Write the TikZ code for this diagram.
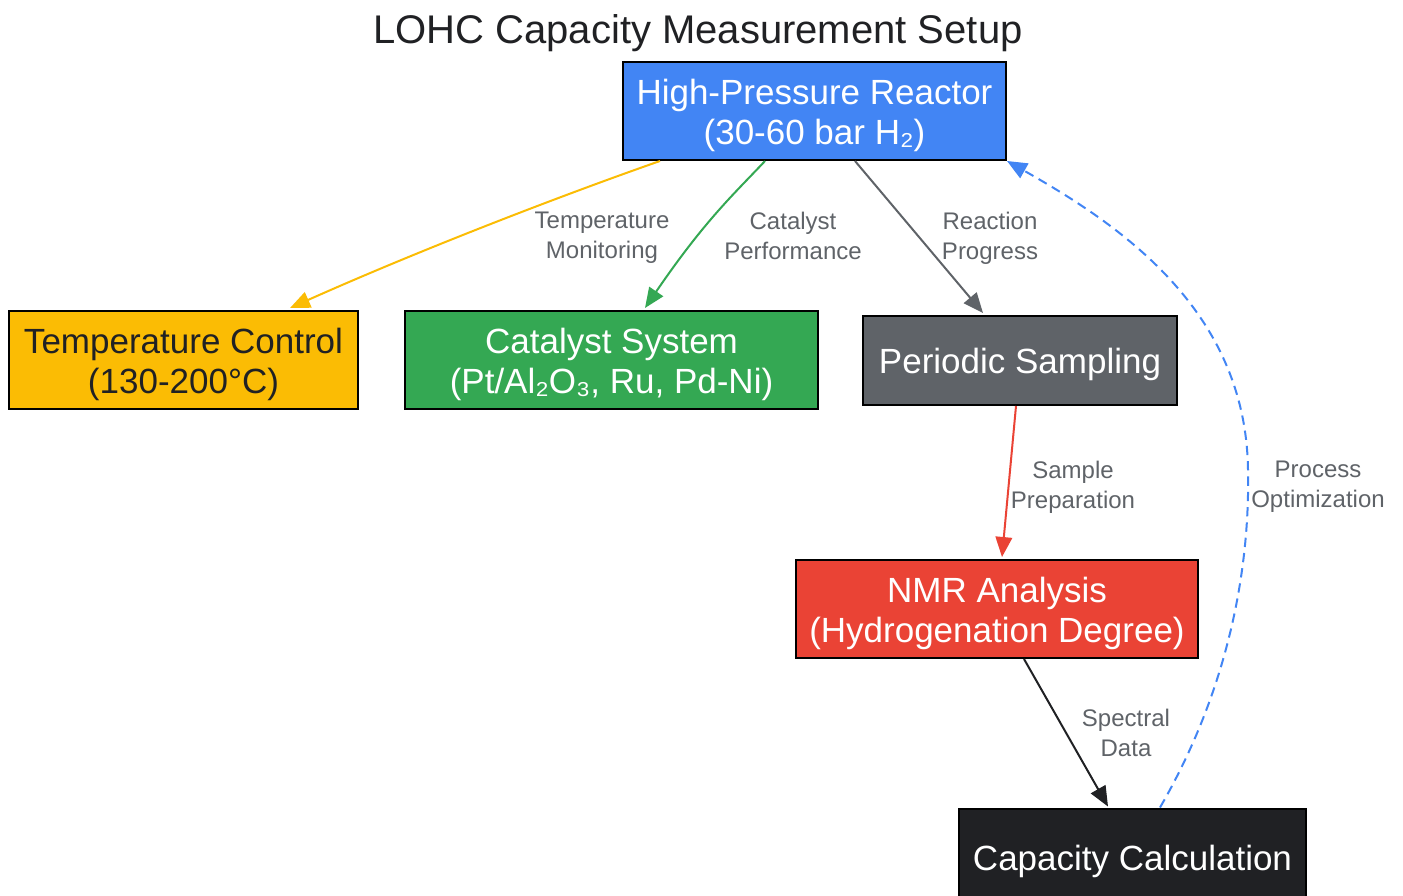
\documentclass[tikz,border=0pt]{standalone}
\usepackage{fontspec}
\setmainfont{Liberation Sans}
\usetikzlibrary{arrows.meta,calc}

\definecolor{gblue}{HTML}{4285F4}
\definecolor{gyellow}{HTML}{FBBC04}
\definecolor{ggreen}{HTML}{34A853}
\definecolor{ggray}{HTML}{5F6368}
\definecolor{gred}{HTML}{EA4335}
\definecolor{gdark}{HTML}{202124}

\tikzset{
  box/.style={draw=black, line width=1.5pt, align=center, inner sep=0pt,
    font=\fontsize{26.25pt}{30pt}\selectfont},
  oneline/.style={execute at begin node={\rule{0pt}{25pt}}},
  twoline/.style={execute at begin node={\rule{0pt}{55.5pt}}},
  elabel/.style={text=ggray, align=center, font=\fontsize{18pt}{22.5pt}\selectfont,
    execute at begin node=\strut, execute at end node=\strut},
  flow/.style={line width=1.5pt, -{Triangle[length=15pt,width=12.5pt]}},
}

\begin{document}
\begin{tikzpicture}[x=0.75pt,y=-0.75pt]
\useasboundingbox (0,0) rectangle (1403,896);
\clip (0,0) rectangle (1403,896);

% Title
\node[text=gdark, font=\fontsize{30pt}{36pt}\selectfont] (title) at (698,33) {LOHC Capacity Measurement Setup};

% Boxes
\node[box, twoline, fill=gblue, text=white, minimum width=287.25pt, minimum height=73.5pt] (reactor) at (814.5,111) {High-Pressure Reactor\\(30-60 bar H₂)};
\node[box, twoline, fill=gyellow, text=gdark, minimum width=261.75pt, minimum height=73.5pt] (temp) at (183.5,360) {Temperature Control\\(130-200°C)};
\node[box, twoline, fill=ggreen, text=white, minimum width=309.75pt, minimum height=73.5pt] (catalyst) at (611.5,360) {Catalyst System\\(Pt/Al₂O₃, Ru, Pd-Ni)};
\node[box, oneline, fill=ggray, text=white, minimum width=235.5pt, minimum height=66.75pt] (sampling) at (1020,360.5) {Periodic Sampling};
\node[box, twoline, fill=gred, text=white, minimum width=301.5pt, minimum height=73.5pt] (nmr) at (997,609) {NMR Analysis\\(Hydrogenation Degree)};
\node[box, oneline, fill=gdark, text=white, minimum width=260.25pt, minimum height=73.5pt] (capacity) at (1132.5,857.5) {Capacity Calculation};

% Connectors
\draw[flow, gyellow] ($(reactor.south)+(-154.5,0)$) .. controls (560,196) and (420,250) .. ($(temp.north)+(106.5,-2)$);
\draw[flow, ggreen] ($(reactor.south)+(-49.5,0)$) .. controls (735,193) and (705,220) .. ($(catalyst.north)+(33.5,-2)$);
\draw[flow, ggray] ($(reactor.south)+(40.5,0)$) -- ($(sampling.north)+(-37,-2)$);
\draw[flow, gred] ($(sampling.south)+(-4,0)$) -- ($(nmr.north)+(5,-2)$);
\draw[flow, gdark] ($(nmr.south)+(27,0)$) -- ($(capacity.north)+(-24.5,-1)$);
\draw[flow, gblue, dash pattern=on 7pt off 4.5pt] ($(capacity.north)+(27.5,0)$)
  .. controls (1228,690) and (1250,570) .. (1248,470)
  .. controls (1246,310) and (1120,225) .. (reactor.south east);

% Edge labels
\node[elabel] (lbtemp) at (602,240) {Temperature\\Monitoring};
\node[elabel] (lbcat) at (793,240) {Catalyst\\Performance};
\node[elabel] (lbreac) at (990,240) {Reaction\\Progress};
\node[elabel] (lbsamp) at (1073,489) {Sample\\Preparation};
\node[elabel] (lbspec) at (1126,737) {Spectral\\Data};
\node[elabel] (lbopt) at (1318,489) {Process\\Optimization};
\end{tikzpicture}
\end{document}
